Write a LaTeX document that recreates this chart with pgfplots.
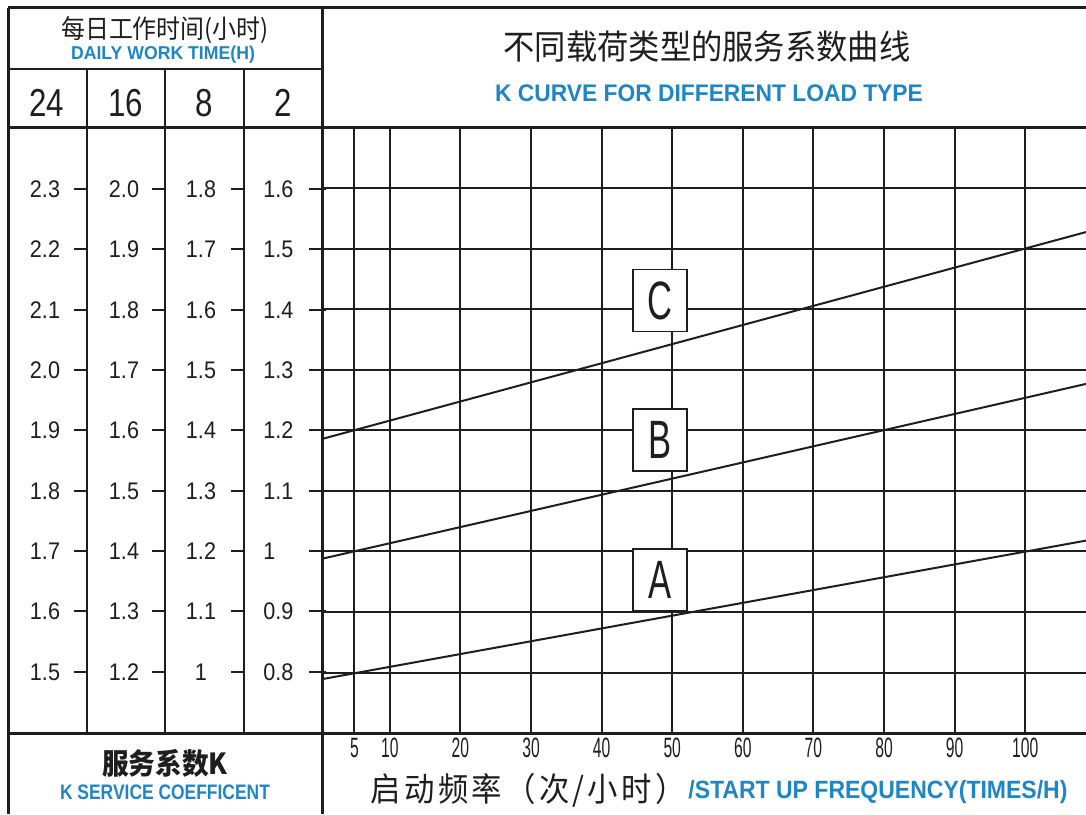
\documentclass[border=0pt]{standalone}
\usepackage{fontspec}
\setmainfont{Liberation Sans}
\newfontfamily\numfont{Liberation Sans}[FakeStretch=0.9]
\newfontfamily\headfont{Liberation Sans}[FakeStretch=0.8]
\newfontfamily\tickfont{Liberation Sans}[FakeStretch=0.56]
\newfontfamily\letfont{Liberation Sans}[FakeStretch=0.64]
\newfontfamily\engfont{Liberation Sans Bold}[FakeStretch=0.95]
\newfontfamily\engmid{Liberation Sans Bold}[FakeStretch=0.92]
\newfontfamily\engnarrow{Liberation Sans Bold}[FakeStretch=0.83]
\newfontfamily\cjk{Noto Sans CJK SC}[FakeStretch=0.92]
\newfontfamily\cjkwide{Noto Sans CJK SC}[FakeStretch=0.92, LetterSpace=10]
\usepackage{pgfplots}
\pgfplotsset{compat=1.18}
\definecolor{ink}{HTML}{1E1E1E}
\definecolor{mblue}{HTML}{1F86C6}
\tikzset{
  frame/.style={draw=ink, line width=1.5pt},
  thin/.style={draw=ink, line width=1pt},
  lnum/.style={font=\numfont\fontsize{12}{12}\selectfont, text=ink, inner sep=0pt},
  lbox/.style={draw=ink, fill=white, line width=0.9pt, minimum width=27pt,
    minimum height=31pt, inner sep=0pt, text=ink,
    font=\letfont\fontsize{27}{27}\selectfont}
}
\begin{document}
\begin{tikzpicture}
\path[use as bounding box] (0,0) rectangle (543pt,407pt);
\begin{axis}[
  at={(161pt,40.5pt)}, anchor=south west,
  width=382pt, height=302.5pt, scale only axis,
  xmin=0.4, xmax=108.6, ymin=1.4, ymax=2.4,
  axis line style={draw=none},
  xtick={5,10,20,30,40,50,60,70,80,90,100},
  ytick={1.5,1.6,1.7,1.8,1.9,2.0,2.1,2.2,2.3},
  yticklabels={},
  major tick length=0pt,
  grid=major,
  major grid style={draw=ink, line width=1pt},
  xticklabel style={font=\tickfont\fontsize{14}{14}\selectfont, text=ink,
    anchor=center, yshift=-7.5pt},
  /pgf/number format/assume math mode=true,
  clip=false,
]
  % K curves, read on the 24 h scale
  \addplot[draw=ink, line width=1pt] coordinates {(0.4,1.886) (108.6,2.228)};
  \addplot[draw=ink, line width=1pt] coordinates {(0.4,1.688) (108.6,1.977)};
  \addplot[draw=ink, line width=1pt] coordinates {(0.4,1.489) (108.6,1.718)};
  \node[lbox] at (axis cs:48.3,2.115) {C};
  \node[lbox] at (axis cs:48.3,1.884) {B};
  \node[lbox] at (axis cs:48.3,1.653) {A};
\end{axis}
\begin{scope}[x=0.5pt, y=-0.5pt, yshift=407pt]
  % frame and table
  \draw[frame] (8,8) -- (1086,8);
  \draw[frame] (8,8) -- (8,814);
  \draw[frame] (322,8) -- (322,814);
  \draw[frame] (8,128) -- (1086,128);
  \draw[frame] (8,733) -- (1086,733);
  \draw[thin] (8,69) -- (322,69);
  \foreach \x in {87,165,244} \draw[thin] (\x,69) -- (\x,733);
  \foreach \y in {189,249,310,370,430,491,551,611,672} {
    \draw[thin] (74,\y) -- (87,\y);
    \draw[thin] (152,\y) -- (165,\y);
    \draw[thin] (231,\y) -- (244,\y);
    \draw[thin] (309,\y) -- (326,\y);
  }
  % header
  \node[font=\cjk\fontsize{13}{13}\selectfont, text=ink] at (165,30) {每日工作时间(小时)};
  \node[font=\engfont\fontsize{9.3}{9.3}\selectfont, text=mblue] at (163,55) {DAILY WORK TIME(H)};
  \foreach \x/\t in {47/24,126/16,204/8,283/2}
    \node[font=\headfont\fontsize{19.5}{19.5}\selectfont, text=ink] at (\x,103) {\t};
  % service factor columns
  \foreach \y/\a/\b/\c/\d in {189/2.3/2.0/1.8/1.6, 249/2.2/1.9/1.7/1.5,
      310/2.1/1.8/1.6/1.4, 370/2.0/1.7/1.5/1.3, 430/1.9/1.6/1.4/1.2,
      491/1.8/1.5/1.3/1.1, 551/1.7/1.4/1.2/1, 611/1.6/1.3/1.1/0.9,
      672/1.5/1.2/1/0.8} {
    \node[lnum] at (45,\y) {\a};
    \node[lnum] at (124,\y) {\b};
    \node[lnum] at (201,\y) {\c};
    \node[lnum, anchor=west] at (263,\y) {\d};
  }
  % titles
  \node[font=\cjk\fontsize{17}{17}\selectfont, text=ink] at (707,47) {不同载荷类型的服务系数曲线};
  \node[font=\engfont\fontsize{12}{12}\selectfont, text=mblue] at (709,93) {K CURVE FOR DIFFERENT LOAD TYPE};
  \node[font=\cjk\bfseries\fontsize{14.5}{14.5}\selectfont, text=ink] at (165,763) {服务系数K};
  \node[font=\engnarrow\fontsize{10.5}{10.5}\selectfont, text=mblue] at (165,792) {K SERVICE COEFFICENT};
  \node[font=\cjkwide\fontsize{16.5}{16.5}\selectfont, text=ink, anchor=east, inner sep=0pt] at (686,790) {启动频率（次/小时）};
  \node[font=\engmid\fontsize{12.5}{12.5}\selectfont, text=mblue, anchor=west, inner sep=0pt] at (688,792) {/START UP FREQUENCY(TIMES/H)};
\end{scope}
\end{tikzpicture}
\end{document}
